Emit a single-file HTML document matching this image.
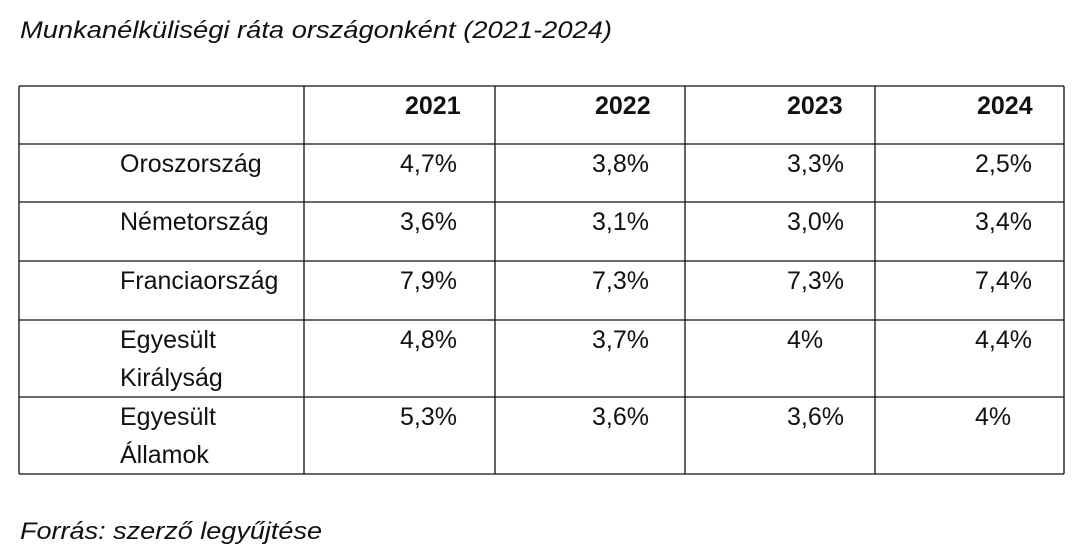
<!DOCTYPE html>
<html><head><meta charset="utf-8"><style>
html,body{margin:0;padding:0;background:#fff;}
svg{display:block;font-family:"Liberation Sans",sans-serif;}
</style></head><body>
<svg id="tbl" width="1080" height="554" viewBox="0 0 1080 554">
<text x="20" y="38" font-size="24" font-style="italic" fill="#111" textLength="592" lengthAdjust="spacingAndGlyphs">Munkanélküliségi ráta országonként (2021-2024)</text>
<text x="20" y="539" font-size="24" font-style="italic" fill="#111" textLength="302" lengthAdjust="spacingAndGlyphs">Forrás: szerző legyűjtése</text>
<g id="grid"></g>
<g id="cells"></g>
</svg>
<script>
const years = ["2021","2022","2023","2024"];
const countries = [["Oroszország"],["Németország"],["Franciaország"],["Egyesült","Királyság"],["Egyesült","Államok"]];
const valuesRussia = ["4,7%","3,8%","3,3%","2,5%"];
const valuesGermany = ["3,6%","3,1%","3,0%","3,4%"];
const valuesFrance = ["7,9%","7,3%","7,3%","7,4%"];
const valuesUK = ["4,8%","3,7%","4%","4,4%"];
const valuesUS = ["5,3%","3,6%","3,6%","4%"];
const rowsData = [valuesRussia, valuesGermany, valuesFrance, valuesUK, valuesUS];

const NS = "http://www.w3.org/2000/svg";
const colX = [19,304,495,685,875,1064];
const rowY = [86,144,202,261,320,397,474];
const valX = [400,592,787,975];
const hdrX = [405,595,787,977];
const grid = document.getElementById('grid');
const cells = document.getElementById('cells');
function line(x1,y1,x2,y2,name){
  const l=document.createElementNS(NS,'line');
  l.setAttribute('x1',x1);l.setAttribute('y1',y1);l.setAttribute('x2',x2);l.setAttribute('y2',y2);
  l.setAttribute('stroke','#111');l.setAttribute('stroke-width','1.3');
  
  
  grid.appendChild(l);
}
colX.forEach((x,i)=>line(x,rowY[0],x,rowY[rowY.length-1],'column-border-'+i));
rowY.forEach((y,i)=>line(colX[0],y,colX[colX.length-1],y,'row-border-'+i));
function txt(x,y,s,bold,name,size){
  const t=document.createElementNS(NS,'text');
  t.setAttribute('x',x);t.setAttribute('y',y);
  t.setAttribute('font-size',size||26);
  t.setAttribute('fill','#111');
  if(bold)t.setAttribute('font-weight','bold');
  t.textContent=s;
  
  
  cells.appendChild(t);
}
years.forEach((y,i)=>txt(hdrX[i],rowY[0]+28,y,true,'header-year-'+y,25));
countries.forEach((c,r)=>{
  const top=rowY[r+1];
  c.forEach((part,k)=>txt(120,top+28+k*38,part,false,'country-label-'+r+'-'+k,25));
  rowsData[r].forEach((v,i)=>txt(valX[i],top+28,v,false,'value-'+r+'-'+years[i],25));
});
</script>
</body></html>
